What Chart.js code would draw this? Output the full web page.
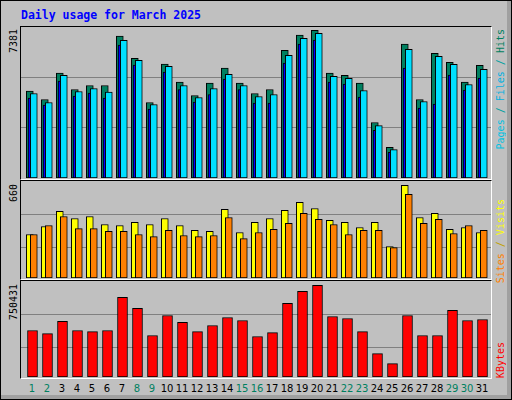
<!DOCTYPE html>
<html><head><meta charset="utf-8">
<script src="https://cdn.jsdelivr.net/npm/chart.js@4/dist/chart.umd.min.js"></script>
<style>
html,body{margin:0;padding:0;background:#fff}
#wrap{position:absolute;left:0;top:0;width:510px;height:398px;background:#c0c0c0;border:1px solid #000;overflow:hidden}
#shadeR{position:absolute;right:0;top:0;width:4px;height:100%;background:#a0a0a0}
#shadeB{position:absolute;left:0;bottom:0;width:100%;height:4px;background:#a0a0a0}
.frame{position:absolute;border-top:1px solid #000;border-left:1px solid #000;border-right:1px solid #fff;border-bottom:1px solid #fff}
canvas{position:absolute}
.vt{position:absolute;writing-mode:vertical-rl;transform:rotate(180deg);font-family:"DejaVu Sans Mono",monospace;font-size:10px;line-height:10px;white-space:nowrap}
#title{position:absolute;left:20px;top:7px;font-family:"DejaVu Sans Mono",monospace;font-weight:bold;font-size:11.5px;color:#0000ff}
.day{position:absolute;top:382px;width:16px;text-align:center;font-family:"DejaVu Sans",sans-serif;font-size:10px}
</style></head><body>
<div id="wrap">
<div id="shadeR"></div><div id="shadeB"></div>
<div id="title">Daily usage for March 2025</div>
<div class="frame" style="left:19px;top:25px;width:470px;height:152px"></div>
<div class="frame" style="left:19px;top:179px;width:470px;height:98px"></div>
<div class="frame" style="left:19px;top:279px;width:470px;height:97px"></div>
<canvas id="c1" width="470" height="151" style="left:20px;top:26px;width:470px;height:151px"></canvas>
<canvas id="c2" width="470" height="96" style="left:20px;top:181px;width:470px;height:96px"></canvas>
<canvas id="c3" width="470" height="95" style="left:20px;top:281px;width:470px;height:95px"></canvas>
<div class="vt" style="left:8px;top:28px">7381</div>
<div class="vt" style="left:8px;top:183px">660</div>
<div class="vt" style="left:8px;top:283px">750431</div>
<div class="vt" style="left:495px;top:28px"><span style="color:#00c0e0">Pages</span><span style="color:#00a0a0"> / </span><span style="color:#00b0e0">Files</span><span style="color:#00a0a0"> / </span><span style="color:#008060">Hits</span></div>
<div class="vt" style="left:495px;top:198px"><span style="color:#ff8000">Sites</span><span style="color:#c0a000"> / </span><span style="color:#ffff00">Visits</span></div>
<div class="vt" style="left:495px;top:341px"><span style="color:#ff0000">KBytes</span></div>
<div id="days"></div>
</div>
<script>
const days=[1,2,3,4,5,6,7,8,9,10,11,12,13,14,15,16,17,18,19,20,21,22,23,24,25,26,27,28,29,30,31];
const weekend=[1,2,8,9,15,16,22,23,29,30];
const hits=[4246,3838,5128,4327,4523,4523,6940,5846,3691,5569,4687,4034,4638,5373,4638,4132,4327,6238,6989,7218,5128,5013,4638,2711,1502,6548,3838,6091,5650,4687,5503];
const files=[4132,3691,5013,4230,4377,4197,6728,5748,3593,5454,4523,3936,4377,5062,4523,3985,4083,5993,6826,7071,4964,4866,4279,2564,1388,6287,3740,5944,5552,4572,5307];
const pages=[3903,3560,4736,4001,4148,3903,6499,5520,3364,5177,4327,3707,4083,4834,4327,3658,3658,5618,6548,6744,4687,4589,3952,2335,1257,5373,3413,3609,5030,4295,4883];
const visits=[299,354,458,409,423,368,361,382,368,409,361,327,320,472,313,382,409,465,520,478,396,382,347,382,216,637,416,444,334,347,313];
const sites=[299,361,423,340,340,320,320,299,285,327,292,285,292,416,271,313,334,375,444,403,368,299,327,327,209,575,375,403,306,361,327];
const kbytes=[367000,343000,439000,367000,359000,367000,629000,542000,328000,486000,431000,359000,407000,470000,446000,320000,351000,581000,676000,724000,478000,462000,359000,185000,106000,486000,328000,328000,526000,446000,454000];
const maxTop=7381, maxMid=660, maxBot=750431;

const dd=document.getElementById('days');
days.forEach(d=>{const e=document.createElement('div');e.className='day';e.textContent=d;
 e.style.left=(23+(d-1)*15)+'px';e.style.color=weekend.includes(d)?'#008060':'#000';dd.appendChild(e);});

function xa(min){return {type:'linear',display:false,offset:false,bounds:'ticks',min:min,max:min+470/15};}
function ya(max,fr){return {min:0,max:max,display:true,border:{display:false},
 ticks:{display:false},grid:{color:'#808080',lineWidth:1,drawTicks:false,tickLength:0},
 afterBuildTicks:s=>{s.ticks=fr.map(f=>({value:f*max}));}};}
function ds(vals,color,w,axis,ord){return {data:days.map((d,i)=>({x:d,y:vals[i]})),backgroundColor:color,
 borderColor:'#000',borderWidth:1,borderSkipped:false,barThickness:w,xAxisID:axis,grouped:false,order:ord};}
function mk(id,datasets,scales){
 new Chart(document.getElementById(id),{type:'bar',data:{datasets},
 options:{responsive:false,animation:false,events:[],layout:{padding:0},
 plugins:{legend:{display:false},tooltip:{enabled:false}},scales}});}
mk('c1',[ds(hits,'#008060',7,'xh',3),ds(pages,'#0000ff',5,'xp',2),ds(files,'#00e0ff',7,'xf',1)],
 {xh:xa(1-8.8/15),xp:xa(1-9.6/15),xf:xa(1-12.8/15),y:ya(maxTop,[1/3,2/3])});
mk('c2',[ds(visits,'#ffff00',7,'xh',2),ds(sites,'#ff8000',7,'xf',1)],
 {xh:xa(1-8.8/15),xf:xa(1-12.8/15),y:ya(maxMid,[0.32,0.66])});
mk('c3',[ds(kbytes,'#ff0000',10,'xk',1)],
 {xk:xa(1-11.5/15),y:ya(maxBot,[0.31,0.66])});
</script>
</body></html>
